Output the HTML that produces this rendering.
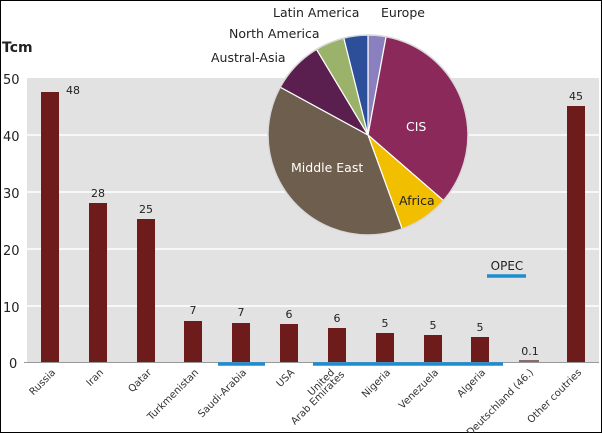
<!DOCTYPE html><html><head><style>body{margin:0;background:#fff}svg{display:block;font-family:"DejaVu Sans","Liberation Sans",sans-serif}</style></head><body>
<svg width="602" height="433" viewBox="0 0 602 433" xmlns="http://www.w3.org/2000/svg">
<rect x="0.5" y="0.5" width="601" height="432" fill="#fff" stroke="#000"/>
<rect x="27" y="78" width="572" height="284" fill="#e2e2e2"/>
<g stroke="#fff" stroke-width="1.5"><line x1="27" y1="135" x2="599" y2="135"/><line x1="27" y1="192" x2="599" y2="192"/><line x1="27" y1="249" x2="599" y2="249"/><line x1="27" y1="306" x2="599" y2="306"/></g>
<line x1="24" y1="362.5" x2="599" y2="362.5" stroke="#999"/>
<g font-size="13" fill="#222"><text x="2" y="52" font-weight="bold" font-size="14">Tcm</text>
<text x="3" y="84">50</text><text x="3" y="141">40</text><text x="3" y="198">30</text><text x="3" y="255">20</text><text x="3" y="312">10</text><text x="9" y="368">0</text></g>
<g fill="#6d1b1b">
<rect x="41" y="92" width="18" height="270"/>
<rect x="89" y="203" width="18" height="159"/>
<rect x="137" y="219" width="18" height="143"/>
<rect x="184" y="321" width="18" height="41"/>
<rect x="232" y="323" width="18" height="39"/>
<rect x="280" y="324" width="18" height="38"/>
<rect x="328" y="328" width="18" height="34"/>
<rect x="376" y="333" width="18" height="29"/>
<rect x="424" y="335" width="18" height="27"/>
<rect x="471" y="337" width="18" height="25"/>
<rect x="567" y="106" width="18" height="256"/>
</g>
<rect x="519" y="360" width="20" height="2" fill="#8a6a6a"/>
<g font-size="11" fill="#222" text-anchor="middle">
<text x="73" y="94">48</text><text x="98" y="197">28</text><text x="146" y="213">25</text><text x="193" y="314">7</text><text x="241" y="316">7</text><text x="289" y="318">6</text><text x="337" y="322">6</text><text x="385" y="327">5</text><text x="433" y="329">5</text><text x="480" y="331">5</text><text x="530" y="355">0.1</text><text x="576" y="100">45</text></g>
<g stroke="#1a8ed0" stroke-width="3.5"><line x1="218" y1="364" x2="265" y2="364"/><line x1="313" y1="364" x2="503" y2="364"/><line x1="487" y1="276" x2="526" y2="276"/></g>
<text x="507" y="270" font-size="12" fill="#222" text-anchor="middle">OPEC</text>
<g font-size="10" fill="#333" text-anchor="end">
<text transform="translate(56,373) rotate(-45)">Russia</text>
<text transform="translate(104,373) rotate(-45)">Iran</text>
<text transform="translate(152,373) rotate(-45)">Qatar</text>
<text transform="translate(199,373) rotate(-45)">Turkmenistan</text>
<text transform="translate(247,373) rotate(-45)">Saudi-Arabia</text>
<text transform="translate(295,373) rotate(-45)">USA</text>
<text transform="translate(335,373) rotate(-45)">United</text>
<text transform="translate(345,375) rotate(-45)">Arab Emirates</text>
<text transform="translate(391,373) rotate(-45)">Nigeria</text>
<text transform="translate(439,373) rotate(-45)">Venezuela</text>
<text transform="translate(486,373) rotate(-45)">Algeria</text>
<text transform="translate(534,373) rotate(-45)">Deutschland (46.)</text>
<text transform="translate(582,373) rotate(-45)">Other coutries</text>
</g>
<g stroke="#fff" stroke-width="1.2">
<path d="M368,135 L368,35 A100,100 0 0 1 386.1,36.6 Z" fill="#8a80c0"/>
<path d="M368,135 L386.1,36.6 A100,100 0 0 1 443.5,200.6 Z" fill="#8b2a5a"/>
<path d="M368,135 L443.5,200.6 A100,100 0 0 1 402.2,229 Z" fill="#f2be00"/>
<path d="M368,135 L402.2,229 A100,100 0 0 1 280.2,87.1 Z" fill="#6e5e4d"/>
<path d="M368,135 L280.2,87.1 A100,100 0 0 1 316.5,49.3 Z" fill="#5a1f4f"/>
<path d="M368,135 L316.5,49.3 A100,100 0 0 1 343.8,38 Z" fill="#9bb26a"/>
<path d="M368,135 L343.8,38 A100,100 0 0 1 368,35 Z" fill="#2d4f9a"/>
</g>
<circle cx="368" cy="135" r="100" fill="none" stroke="#d8d8d8" stroke-width="1.5"/>
<g font-size="12.5" fill="#222">
<text x="273" y="17">Latin America</text><text x="381" y="17">Europe</text>
<text x="229" y="38">North America</text><text x="211" y="62">Austral-Asia</text>
<text x="406" y="131" fill="#fff">CIS</text>
<text x="291" y="172" fill="#fff">Middle East</text>
<text x="399" y="205">Africa</text>
</g>
</svg></body></html>
